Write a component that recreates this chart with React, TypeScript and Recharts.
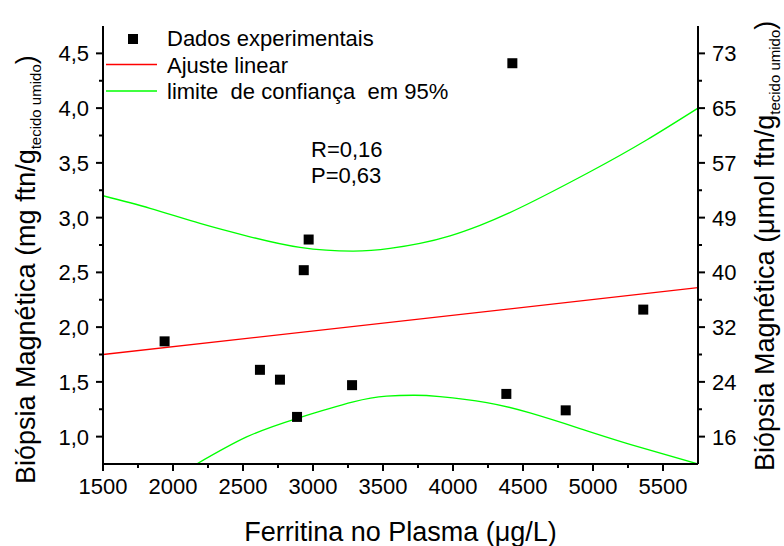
import { ComposedChart, XAxis, YAxis, Line, Scatter } from 'recharts'

// experimental points
const ferritina = [1940, 2621, 2764, 2886, 2934, 2969, 3279, 4381, 4424, 4805, 5359]
const biopsia = [1.87, 1.61, 1.52, 1.18, 2.52, 2.8, 1.47, 1.39, 4.41, 1.24, 2.16]

// linear fit
const fitX = [1500, 5750]
const fitY = [1.75, 2.36]

// 95% confidence limits
const upperX = [1500, 1836, 2193, 2550, 2907, 3288, 3550, 3764, 3979, 4193, 4479, 4979, 5383, 5750]
const upperY = [3.2, 3.085, 2.947, 2.825, 2.728, 2.694, 2.719, 2.765, 2.834, 2.93, 3.09, 3.419, 3.709, 4.0]
const lowerX = [2169, 2526, 2883, 3288, 3526, 3716, 3907, 4241, 4550, 4907, 5264, 5750]
const lowerY = [0.75, 0.997, 1.165, 1.317, 1.369, 1.378, 1.366, 1.311, 1.216, 1.074, 0.93, 0.75]

const xMajor = [1500, 2000, 2500, 3000, 3500, 4000, 4500, 5000, 5500]
const xMinor = [1750, 2250, 2750, 3250, 3750, 4250, 4750, 5250]
const yMajor = [1, 1.5, 2, 2.5, 3, 3.5, 4, 4.5]
const yMinor = [1.25, 1.75, 2.25, 2.75, 3.25, 3.75, 4.25]
const yLeftLabels = ['1,0', '1,5', '2,0', '2,5', '3,0', '3,5', '4,0', '4,5']
const yRightLabels = ['16', '24', '32', '40', '49', '57', '65', '73']

const legendLabels = ['Dados experimentais', 'Ajuste linear', 'limite  de confiança  em 95%']
const statsLines = ['R=0,16', 'P=0,63']

const pts = ferritina.map((x, i) => ({ x, y: biopsia[i] }))
const fit = fitX.map((x, i) => ({ x, y: fitY[i] }))
const upper = upperX.map((x, i) => ({ x, y: upperY[i] }))
const lower = lowerX.map((x, i) => ({ x, y: lowerY[i] }))

const xTicks = [...xMajor, ...xMinor].sort((a, b) => a - b)
const yTicks = [...yMajor, ...yMinor].sort((a, b) => a - b)

const FONT = 'Liberation Sans, Arial, sans-serif'

const XTick = (props: any) => {
  const { x, y, payload } = props
  const major = xMajor.includes(payload.value)
  return (
    <g>
      <line x1={x} x2={x} y1={y} y2={y + (major ? 7 : 4)} stroke="#000" strokeWidth={2} />
      {major && (
        <text x={x} y={y + 30} textAnchor="middle" fontSize={22} fill="#000" fontFamily={FONT}>
          {payload.value}
        </text>
      )}
    </g>
  )
}

const YTick = (props: any) => {
  const { x, y, payload, side } = props
  const idx = yMajor.indexOf(payload.value)
  const major = idx >= 0
  const dir = side === 'left' ? -1 : 1
  const label = side === 'left' ? yLeftLabels[idx] : yRightLabels[idx]
  return (
    <g>
      <line x1={x} x2={x + dir * (major ? 7 : 4)} y1={y} y2={y} stroke="#000" strokeWidth={2} />
      {major && (
        <text
          x={x + dir * 14}
          y={y + 8}
          textAnchor={side === 'left' ? 'end' : 'start'}
          fontSize={22}
          fill="#000"
          fontFamily={FONT}
        >
          {label}
        </text>
      )}
    </g>
  )
}

const Square = (props: any) => {
  const { cx, cy } = props
  return <rect x={cx - 5} y={cy - 5} width={10} height={10} fill="#000" />
}

export default function App() {
  const axisLine = { stroke: '#000', strokeWidth: 2 }
  return (
    <div style={{ position: 'absolute', left: 0, top: 0, width: 784, height: 546, fontFamily: FONT, background: '#fff' }}>
      <ComposedChart width={784} height={546} margin={{ top: 26, right: 0, bottom: 0, left: 0 }}>
        <XAxis
          dataKey="x"
          type="number"
          domain={[1500, 5750]}
          ticks={xTicks}
          interval={0}
          tick={<XTick />}
          tickSize={0}
          tickMargin={0}
          axisLine={axisLine}
          height={82}
          allowDataOverflow
        />
        <XAxis
          xAxisId="top"
          orientation="top"
          dataKey="x"
          type="number"
          domain={[1500, 5750]}
          tick={false}
          tickLine={false}
          axisLine={axisLine}
          height={0}
        />
        <YAxis
          yAxisId="left"
          type="number"
          domain={[0.75, 4.75]}
          ticks={yTicks}
          interval={0}
          tick={<YTick side="left" />}
          tickSize={0}
          tickMargin={0}
          axisLine={axisLine}
          width={103}
          allowDataOverflow
        />
        <YAxis
          yAxisId="right"
          orientation="right"
          type="number"
          domain={[0.75, 4.75]}
          ticks={yTicks}
          interval={0}
          tick={<YTick side="right" />}
          tickSize={0}
          tickMargin={0}
          axisLine={axisLine}
          width={86}
          allowDataOverflow
        />
        <Line
          yAxisId="left"
          data={upper}
          dataKey="y"
          type="natural"
          stroke="#00ff00"
          strokeWidth={1.3}
          dot={false}
          isAnimationActive={false}
        />
        <Line
          yAxisId="left"
          data={lower}
          dataKey="y"
          type="natural"
          stroke="#00ff00"
          strokeWidth={1.3}
          dot={false}
          isAnimationActive={false}
        />
        <Line
          yAxisId="left"
          data={fit}
          dataKey="y"
          type="linear"
          stroke="#ff0000"
          strokeWidth={1.3}
          dot={false}
          isAnimationActive={false}
        />
        <Scatter yAxisId="left" data={pts} dataKey="y" shape={<Square />} isAnimationActive={false} />
      </ComposedChart>

      <svg
        width={784}
        height={546}
        style={{ position: 'absolute', left: 0, top: 0, pointerEvents: 'none' }}
        fontFamily={FONT}
      >
        {/* legend */}
        <rect x={128} y={34} width={10} height={10} fill="#000" />
        <line x1={106} x2={157} y1={64.5} y2={64.5} stroke="#ff0000" strokeWidth={1.3} />
        <line x1={106} x2={157} y1={91} y2={91} stroke="#00ff00" strokeWidth={1.3} />
        {legendLabels.map((t, i) => (
          <text key={t} x={167} y={46 + i * 26.5} fontSize={22} fill="#000" style={{ whiteSpace: 'pre' }}>
            {t}
          </text>
        ))}

        {statsLines.map((t, i) => (
          <text key={t} x={311} y={157 + i * 26} fontSize={22} fill="#000">
            {t}
          </text>
        ))}

        {/* axis titles */}
        <text x={400.5} y={541} textAnchor="middle" fontSize={27} fill="#000">
          Ferritina no Plasma (μg/L)
        </text>
        <text transform="translate(35,484) rotate(-90)" fontSize={27} fill="#000">
          Biópsia Magnética (mg ftn/g
          <tspan fontSize={15} dy={6}>tecido umido</tspan>
          <tspan dy={-6}>)</tspan>
        </text>
        <text transform="translate(774,471) rotate(-90)" fontSize={27} fill="#000">
          Biópsia Magnética (μmol ftn/g
          <tspan fontSize={15} dy={6}>tecido umido</tspan>
          <tspan dy={-6}>)</tspan>
        </text>
      </svg>
    </div>
  )
}
